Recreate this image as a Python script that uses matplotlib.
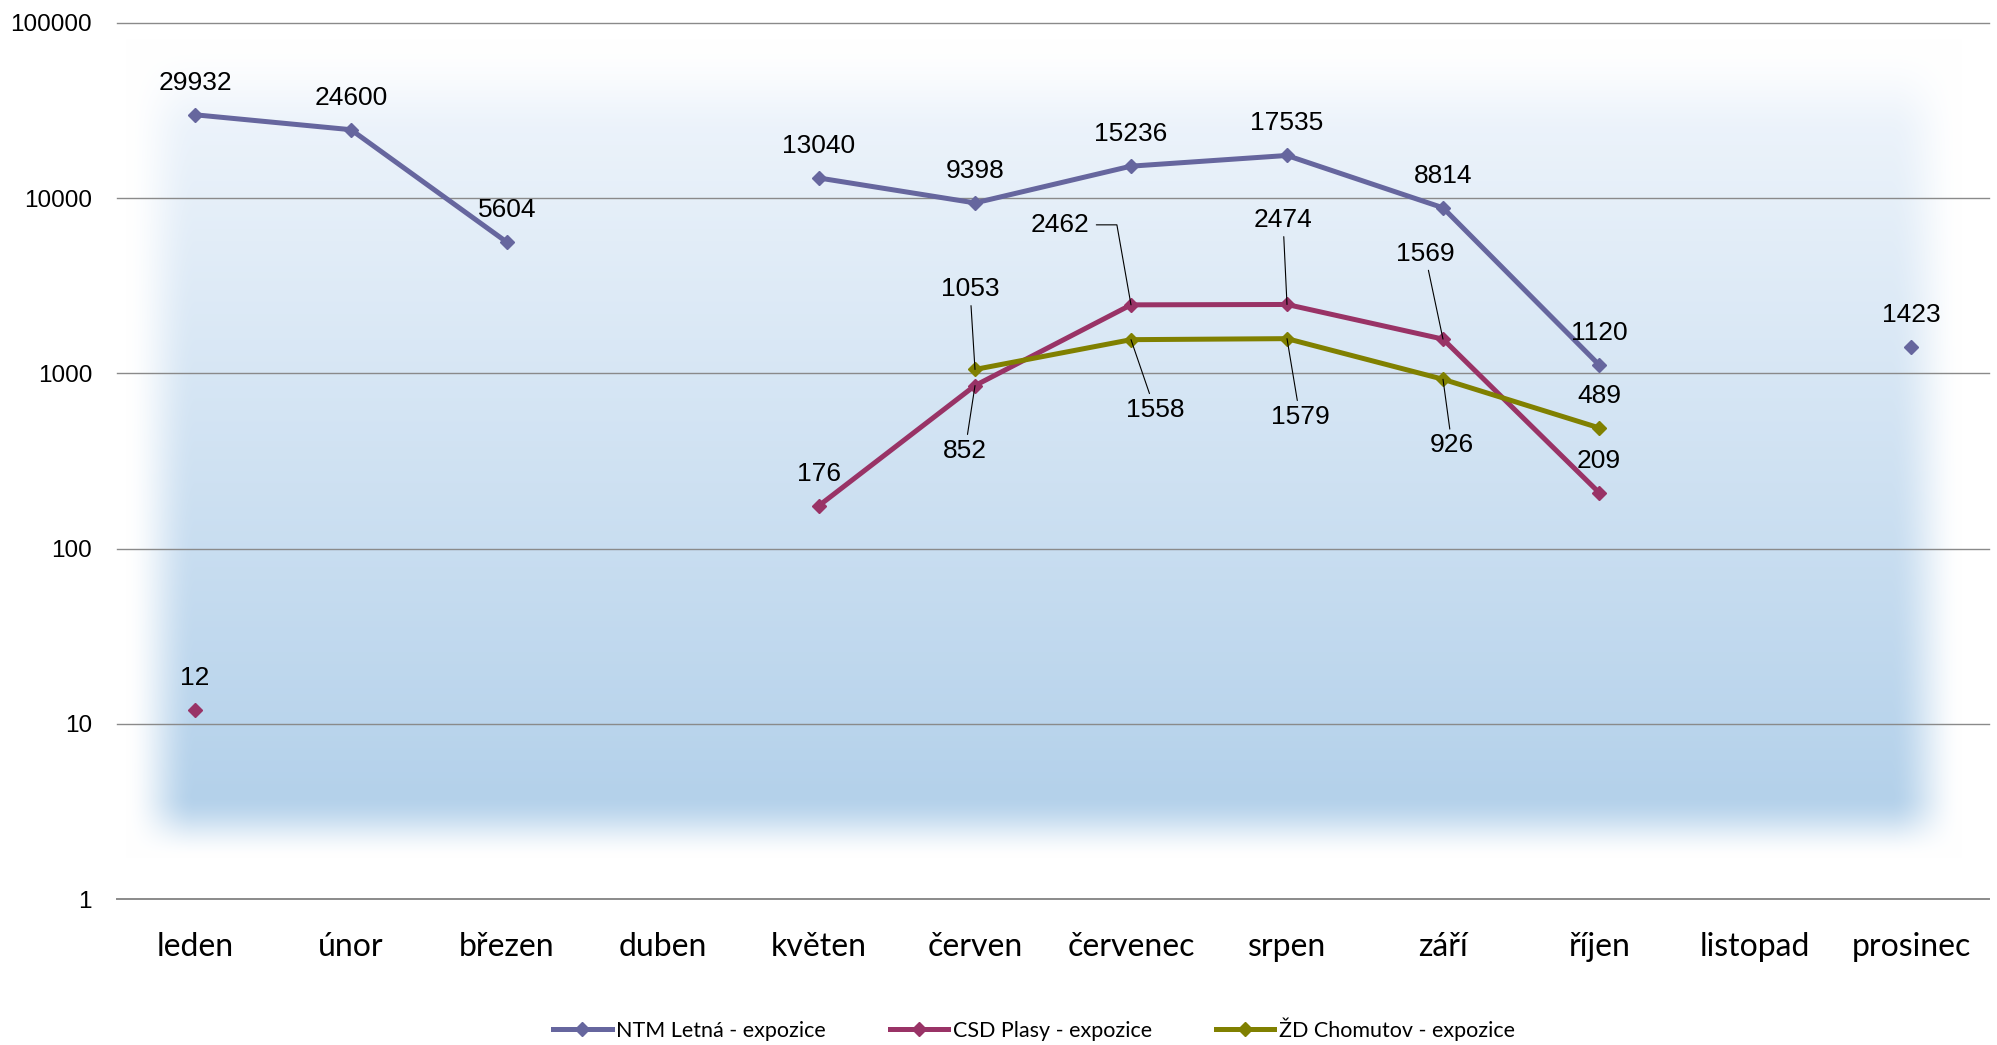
import numpy as np
import matplotlib
matplotlib.use('Agg')
import matplotlib.pyplot as plt
from matplotlib.lines import Line2D
from matplotlib.ticker import NullLocator

# ---------------- data ----------------
months = ['leden', 'únor', 'březen', 'duben', 'květen', 'červen',
          'červenec', 'srpen', 'září', 'říjen', 'listopad', 'prosinec']
ntm = [29932, 24600, 5604, None, 13040, 9398, 15236, 17535, 8814, 1120, None, 1423]
csd = [12, None, None, None, 176, 852, 2462, 2474, 1569, 209, None, None]
zd = [None, None, None, None, None, 1053, 1558, 1579, 926, 489, None, None]
series_names = ['NTM Letná - expozice', 'CSD Plasy - expozice', 'ŽD Chomutov - expozice']
yticks = [1, 10, 100, 1000, 10000, 100000]

# ---------------- style ----------------
colors = ['#66669e', '#993366', '#808000']
W, H = 1997, 1045
fig = plt.figure(figsize=(W / 100, H / 100), dpi=100)

# soft blue background panel
yy = np.arange(H)[:, None].astype(float)
xx = np.arange(W)[None, :].astype(float)

def ramp(v, a, b):
    t = np.clip((v - a) / (b - a), 0, 1)
    return t * t * (3 - 2 * t)

alpha = (ramp(xx, 125, 195) * (1 - ramp(xx, 1890, 1962))
         * ramp(yy, 38, 135) * (1 - ramp(yy, 795, 858)))
t = np.clip((yy - 60) / (820 - 60), 0, 1)
top = np.array([241, 246, 252]) / 255
bot = np.array([178, 208, 234]) / 255
rgb = top[None, None, :] * (1 - t[..., None]) + bot[None, None, :] * t[..., None]
rgb = np.broadcast_to(rgb, (H, W, 3))
img = 1.0 * (1 - alpha[..., None]) + rgb * alpha[..., None]
bgax = fig.add_axes([0, 0, 1, 1], zorder=0)
bgax.imshow(img, extent=(0, W, H, 0), aspect='auto', interpolation='bilinear')
bgax.set_xlim(0, W)
bgax.set_ylim(H, 0)
bgax.axis('off')

# main axes
ax = fig.add_axes([117 / W, 146 / H, (1989 - 117) / W, (1022 - 146) / H], zorder=1)
ax.patch.set_alpha(0)
ax.set_yscale('log')
ax.set_ylim(1, 100000)
ax.set_xlim(-0.5, len(months) - 0.5)
for s in ax.spines.values():
    s.set_visible(False)
for v in yticks:
    ax.axhline(v, color='#8a8a8a', lw=1.0 if v > 1 else 1.4, zorder=1, clip_on=False)

x = np.arange(len(months))
ax.set_xticks(x)
ax.set_xticklabels(months, fontfamily='Lato', fontsize=23)
ax.set_yticks(yticks)
ax.set_yticklabels([str(v) for v in yticks], fontfamily='Liberation Sans', fontsize=17.5)
ax.yaxis.set_minor_locator(NullLocator())
ax.tick_params(axis='x', length=0, pad=24)
ax.tick_params(axis='y', length=0, pad=18)

all_series = [ntm, csd, zd]
handles = []
for vals, col, name in zip(all_series, colors, series_names):
    arr = np.array(vals, dtype=float)
    ax.plot(x, arr, color=col, lw=3.6, marker='D', ms=7, zorder=3, solid_capstyle='round')
    handles.append(Line2D([], [], color=col, lw=3.6, marker='D', ms=7))

# label placement (offsets in pixels) and leader lines
default_off = (0, 32)
special = {
    (1, 5): (-10, -65, 'line'),
    (1, 6): (-71, 80, 'angle'),
    (1, 7): (-4, 84, 'line'),
    (1, 8): (-18, 85, 'line'),
    (2, 5): (-5, 80, 'line'),
    (2, 6): (24, -70, 'line'),
    (2, 7): (13, -78, 'line'),
    (2, 8): (9, -66, 'line'),
}
for si, vals in enumerate(all_series):
    for i, v in enumerate(vals):
        if v is None:
            continue
        if (si, i) in special:
            dx, dy, kind = special[(si, i)]
            if kind == 'angle':
                ap = dict(arrowstyle='-', color='black', lw=0.8, shrinkA=3, shrinkB=0,
                          connectionstyle='angle,angleA=0,angleB=100,rad=0')
            else:
                ap = dict(arrowstyle='-', color='black', lw=0.8, shrinkA=1, shrinkB=0)
        else:
            dx, dy = default_off
            ap = None
        ax.annotate(str(v), xy=(i, v), xytext=(dx, dy), textcoords='offset pixels',
                    ha='center', va='center', fontsize=19, fontfamily='Liberation Sans',
                    color='black', arrowprops=ap, zorder=4)

fig.legend(handles, series_names, loc='center', bbox_to_anchor=(0.5178, 0.0153),
           ncol=3, frameon=False, prop={'family': 'Lato', 'size': 15.5},
           handlelength=2.7, handletextpad=0.2, columnspacing=3.0)

fig.savefig('out.png', dpi=100)
